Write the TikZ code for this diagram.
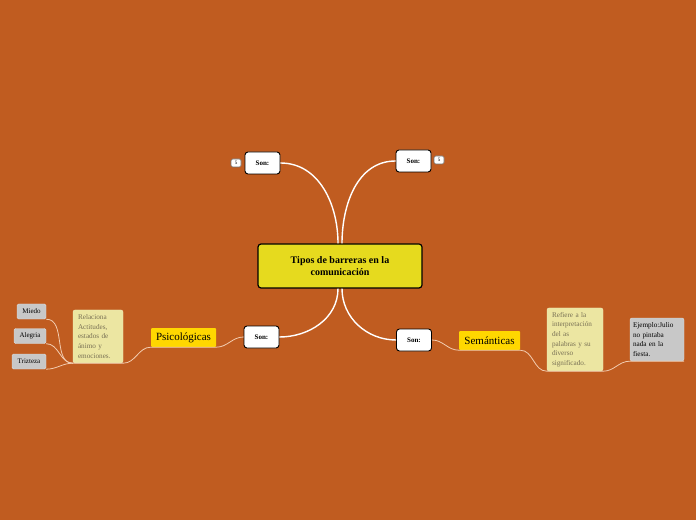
\documentclass[tikz,border=0pt]{standalone}
\usepackage{fontspec}
\setmainfont{Liberation Serif}
\usepackage{xcolor}
\usepackage{tikz}
\usetikzlibrary{calc}
\definecolor{bgorange}{RGB}{192,92,32}
\definecolor{rootyellow}{RGB}{230,218,30}
\definecolor{topicgold}{RGB}{255,215,0}
\definecolor{notepale}{RGB}{236,230,162}
\definecolor{notetext}{RGB}{120,112,84}
\definecolor{leafgray}{RGB}{200,200,200}
\definecolor{linkpale}{RGB}{242,204,176}

\begin{document}
\begin{tikzpicture}[x=1pt, y=1pt,
  root/.style={draw=black, line width=1.2pt, fill=rootyellow, rounded corners=3pt, minimum width=164pt, minimum height=44pt, align=center, font=\fontsize{10}{12}\selectfont\bfseries},
  son/.style={draw=black, line width=0.9pt, fill=white, rounded corners=3pt, minimum width=35pt, minimum height=22pt, inner sep=0pt, font=\fontsize{7}{8}\selectfont\bfseries},
  badge/.style={draw=black!55, line width=0.6pt, fill=white, rounded corners=1.5pt, minimum width=10pt, minimum height=8pt, inner sep=0pt, font=\fontsize{5}{5}\selectfont},
  topic/.style={fill=topicgold, rounded corners=1pt, minimum height=19pt, inner sep=0pt, font=\fontsize{11}{12}\selectfont},
  note/.style={fill=notepale, draw=notepale!70!white, rounded corners=2pt, text=notetext, align=left, inner xsep=5pt, inner ysep=2pt, font=\fontsize{7.2}{9.7}\selectfont},
  leaf/.style={fill=leafgray, draw=leafgray!60!white, rounded corners=1.5pt, inner sep=0pt, minimum height=15pt, font=\fontsize{7}{8}\selectfont},
  mainlink/.style={draw=white, line width=1.4pt},
  sublink/.style={draw=linkpale, line width=0.8pt}]
  \path[use as bounding box, fill=bgorange] (0,0) rectangle (696,520);

  % centre and first level
  \node[root] (centre) at (340,254) {Tipos de barreras en la\\comunicación};
  \node[son] (sonTL) at (262.5,357) {Son:};
  \node[son] (sonTR) at (413.5,359) {Son:};
  \node[son] (sonBL) at (261.5,183) {Son:};
  \node[son] (sonBR) at (414,180) {Son:};
  \node[badge] (badgeTL) at (236,357) {5};
  \node[badge] (badgeTR) at (439,360) {5};

  \draw[mainlink] (sonTL.east) to[out=0, in=90] ($(centre.north)+(-2,0)$);
  \draw[mainlink] (sonTR.west) to[out=180, in=90] ($(centre.north)+(2,0)$);
  \draw[mainlink] ($(centre.south)+(-2,0)$) to[out=-90, in=0] (sonBL.east);
  \draw[mainlink] ($(centre.south)+(2,0)$) to[out=-90, in=180] (sonBR.west);

  % psicologicas
  \node[topic, minimum width=65pt] (psico) at (183.5,182.5) {Psicológicas};
  \node[note, text width=40pt, minimum height=53pt] (relaciona) at (98,183.5) {Relaciona\\Actitudes,\\estados de\\ánimo y\\emociones.};
  \node[leaf, minimum width=29pt] (miedo) at (31.5,208.5) {Miedo};
  \node[leaf, minimum width=32pt] (alegria) at (30,184) {Alegria};
  \node[leaf, minimum width=34pt] (trizteza) at (29,158.5) {Trizteza};

  \draw[sublink] (sonBL.west) to[out=180, in=0] (psico.south east) -- (psico.south west)
    to[out=180, in=0] (relaciona.south east) -- (relaciona.south west);
  \foreach \leafname in {miedo, alegria, trizteza}
    \draw[sublink] (relaciona.south west) to[out=180, in=0] (\leafname.south east);

  % semanticas
  \node[topic, minimum width=61pt] (seman) at (489.5,179.5) {Semánticas};
  \node[note, text width=46pt, minimum height=63pt] (refiere) at (575,180.5) {Refiere a la\\interpretación\\del as\\palabras y su\\diverso\\significado.};
  \node[note, fill=leafgray, draw=leafgray!60!white, text=black, inner xsep=3pt, text width=48pt, minimum height=43pt] (ejemplo) at (657,180.5) {Ejemplo:Julio\\no pintaba\\nada en la\\fiesta.};

  \draw[sublink] (sonBR.east) to[out=0, in=180] (seman.south west) -- (seman.south east)
    to[out=0, in=180] (refiere.south west) -- (refiere.south east)
    to[out=0, in=180] (ejemplo.south west) -- (ejemplo.south east);
\end{tikzpicture}
\end{document}
